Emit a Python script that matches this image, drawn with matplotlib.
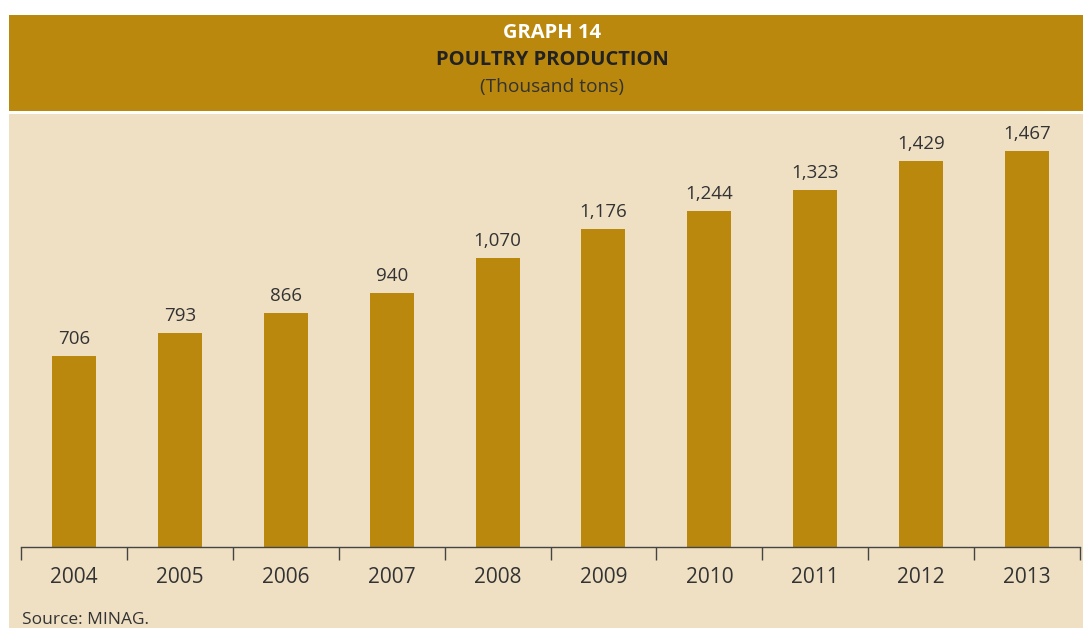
import matplotlib.pyplot as plt
from matplotlib.patches import Rectangle

# Poultry production, thousand tons
years = ['2004', '2005', '2006', '2007', '2008', '2009', '2010', '2011', '2012', '2013']
production = [706, 793, 866, 940, 1070, 1176, 1244, 1323, 1429, 1467]

GOLD = '#BA880C'
BEIGE = '#EFE0C4'
TEXT = '#333333'

plt.rcParams['font.family'] = ['Open Sans', 'DejaVu Sans']

W, H = 1083, 628
fig = plt.figure(figsize=(W / 100, H / 100), dpi=100, facecolor='white')

# header band and panel background (pixel boxes converted to figure coords)
def px_rect(x0, y0, x1, y1, color):
    fig.patches.append(Rectangle((x0 / W, 1 - y1 / H), (x1 - x0) / W, (y1 - y0) / H,
                                 transform=fig.transFigure, facecolor=color,
                                 edgecolor='none', zorder=-10))

px_rect(9, 15, W, 111, GOLD)
px_rect(9, 114, W, H, BEIGE)

fig.text(552 / W, 1 - 33 / H, 'GRAPH 14', ha='center', va='center',
         color='white', fontsize=14.5, fontweight='bold')
fig.text(552 / W, 1 - 60 / H, 'POULTRY PRODUCTION', ha='center', va='center',
         color='#222222', fontsize=14.5, fontweight='bold')
fig.text(552 / W, 1 - 87 / H, '(Thousand tons)', ha='center', va='center',
         color=TEXT, fontsize=13.8)

ax = fig.add_axes([21 / W, 1 - 547 / H, (1080 - 21) / W, (547 - 115) / H])
ax.set_zorder(5)
ax.set_facecolor('none')

x = list(range(len(years)))
bars = ax.bar(x, production, width=0.415, color=GOLD, zorder=2)
for b, v in zip(bars, production):
    ax.text(b.get_x() + b.get_width() / 2, v + 30, f'{v:,}', ha='center', va='bottom',
            fontsize=13.5, color=TEXT)

ax.set_xlim(-0.5, len(years) - 0.5)
ax.set_ylim(0, 1600)

for s in ['top', 'right', 'left']:
    ax.spines[s].set_visible(False)
ax.spines['bottom'].set_color('#444444')
ax.spines['bottom'].set_linewidth(1.0)
ax.set_yticks([])

# tick marks at category boundaries, labels at the bar centres
ax.set_xticks([i - 0.5 for i in range(len(years) + 1)])
ax.set_xticklabels([])
ax.tick_params(axis='x', which='major', direction='out', length=9, width=1.0, color='#444444')
ax.set_xticks(x, minor=True)
ax.set_xticklabels(years, minor=True)
ax.tick_params(axis='x', which='minor', length=0, pad=14.5, labelsize=15, labelcolor=TEXT)

fig.text(22 / W, 1 - 620 / H, 'Source: MINAG.', ha='left', va='center',
         color=TEXT, fontsize=12.5)

fig.savefig('out.png', dpi=100, facecolor='white')
